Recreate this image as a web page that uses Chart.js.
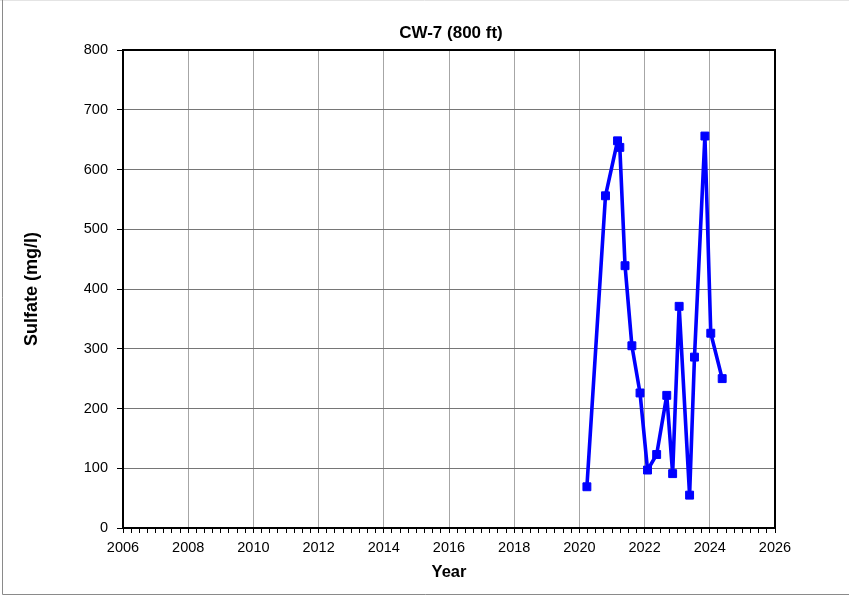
<!DOCTYPE html>
<html>
  <head>
    <script src="https://cdn.jsdelivr.net/npm/chart.js"></script>
    <title>CW-7 (800 ft)</title>
    <style>
      body {
        margin: 0;
        background: #ffffff;
      }
      #grafico {
        display: block;
      }
    </style>
  </head>

  <body>
    <canvas id="grafico" width="849" height="595"></canvas>
    <script>
      // Muestreos de sulfato en el pozo CW-7 (fecha en años decimales)
      const anios = [2020.23, 2020.80, 2021.17, 2021.24, 2021.40, 2021.61, 2021.86, 2022.09, 2022.37,
                     2022.68, 2022.86, 2023.06, 2023.38, 2023.53, 2023.85, 2024.03, 2024.38];
      const sulfato = [69, 556, 648, 637, 439, 305, 226, 97, 123, 222, 91, 371, 55, 286, 656, 326, 250];

      const titulo = "CW-7 (800 ft)";
      const tituloX = "Year";
      const tituloY = "Sulfate (mg/l)";
      const xMin = 2006, xMax = 2026, xPaso = 2;
      const yMin = 0, yMax = 800, yPaso = 100;

      const fuente = "'Liberation Sans', Arial, Helvetica, sans-serif";

      /* Titulo centrado sobre el area del grafico, marco exterior y recuadro */
      const marco = {
        id: "marco",
        afterDraw(chart) {
          const ctx = chart.ctx;
          const a = chart.chartArea;
          ctx.save();
          ctx.fillStyle = "#000000";
          ctx.font = "bold 17px " + fuente;
          ctx.textAlign = "center";
          ctx.textBaseline = "middle";
          ctx.fillText(titulo, (a.left + a.right) / 2 + 2, 33);

          ctx.strokeStyle = "#e4e4e4";
          ctx.lineWidth = 1;
          ctx.beginPath();
          ctx.moveTo(0, 0.5);
          ctx.lineTo(chart.width, 0.5);
          ctx.stroke();
          ctx.strokeStyle = "#8a8a8a";
          ctx.beginPath();
          ctx.moveTo(2.5, 0);
          ctx.lineTo(2.5, 594.5);
          ctx.lineTo(chart.width, 594.5);
          ctx.stroke();
          ctx.strokeStyle = "#000000";
          ctx.lineWidth = 2;
          ctx.strokeRect(a.left, a.top, a.right - a.left, a.bottom - a.top);
          ctx.restore();
        }
      };

      const puntos = anios.map((a, i) => ({ x: a, y: sulfato[i] }));

      new Chart(document.getElementById("grafico"), {
        type: "line",
        data: {
          datasets: [
            {
              data: puntos,
              borderColor: "#0000ff",
              backgroundColor: "#0000ff",
              borderWidth: 3.6,
              borderJoinStyle: "round",
              tension: 0,
              pointStyle: "rect",
              pointRadius: 5.6,
              pointBorderWidth: 1,
              pointHoverRadius: 5.6
            }
          ]
        },
        options: {
          responsive: false,
          animation: false,
          layout: { padding: { left: 0, right: 74, top: 50, bottom: 0 } },
          plugins: {
            legend: { display: false },
            tooltip: { enabled: false },
            title: { display: false }
          },
          scales: {
            x: {
              type: "linear",
              min: xMin,
              max: xMax,
              afterFit(scale) {
                scale.height = 67;
              },
              ticks: {
                stepSize: 0.25,
                autoSkip: false,
                maxRotation: 0,
                padding: 6.5,
                color: "#000000",
                font: { family: fuente, size: 14.5 },
                callback: (v) => (v % xPaso === 0 ? String(v) : "")
              },
              grid: {
                drawTicks: true,
                tickLength: 5,
                lineWidth: 1,
                color: (c) => (c.tick && c.tick.value % xPaso === 0 ? "#a6a6a6" : "rgba(0,0,0,0)"),
                tickColor: "#000000"
              },
              border: { display: false },
              title: {
                display: true,
                text: tituloX,
                color: "#000000",
                font: { family: fuente, size: 16.5, weight: "bold" },
                padding: { top: 13, bottom: 13 }
              }
            },
            y: {
              min: yMin,
              max: yMax,
              afterFit(scale) {
                scale.width = 123;
              },
              ticks: {
                stepSize: yPaso,
                padding: 9,
                color: "#000000",
                font: { family: fuente, size: 14.5 }
              },
              grid: {
                drawTicks: true,
                tickLength: 6,
                lineWidth: 1,
                color: "#767676",
                tickColor: "#000000"
              },
              border: { display: false },
              title: {
                display: true,
                text: tituloY,
                color: "#000000",
                font: { family: fuente, size: 18, weight: "bold" },
                padding: { top: 21, bottom: 21 }
              }
            }
          }
        },
        plugins: [marco]
      });
    </script>
  </body>
</html>
